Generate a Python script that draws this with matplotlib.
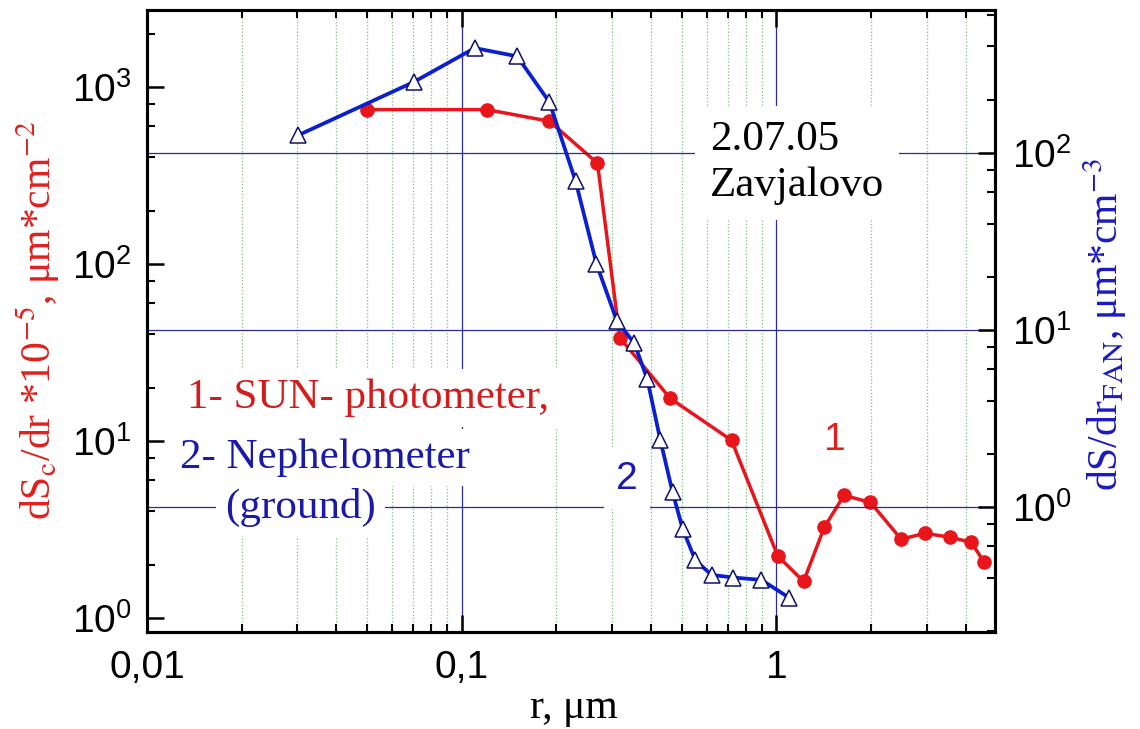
import numpy as np
import matplotlib
matplotlib.use("Agg")
import matplotlib.pyplot as plt
from matplotlib.ticker import (FixedLocator, FixedFormatter, LogLocator,
                               LogFormatterMathtext, NullFormatter)

# curve 1: SUN-photometer, left axis (dSc/dr * 1e-5)
sun_r = [0.05, 0.12, 0.19, 0.27, 0.318, 0.46, 0.72, 1.01, 1.22, 1.42,
         1.64, 1.99, 2.49, 2.97, 3.56, 4.16, 4.57]
sun_ds = [745, 745, 640, 371, 38.3, 17.4, 10.1, 2.24, 1.61, 3.26,
          4.93, 4.5, 2.79, 3.01, 2.86, 2.68, 2.07]

# curve 2: Nephelometer (ground), right axis (dS/dr FAN)
neph_r = [0.0302, 0.0704, 0.11, 0.15, 0.19, 0.23, 0.268, 0.311, 0.354,
          0.389, 0.428, 0.468, 0.504, 0.553, 0.622, 0.73, 0.896, 1.10]
neph_ds = [126, 252, 392, 352, 194, 69.5, 23.7, 11.3, 8.4,
           5.26, 2.38, 1.21, 0.75, 0.50, 0.414, 0.40, 0.388, 0.307]

x_major = [0.01, 0.1, 1]
x_major_labels = ["0,01", "0,1", "1"]

x_lim = (0.01, 4.95)
left_lim = (0.834, 2720)
right_lim = (0.197, 643)

RED = "#e8161b"
BLUE = "#0a1ed2"
NAVY = "#2a2a9a"
GREEN = "#7cc27c"

plt.rcParams["font.family"] = ["Liberation Sans", "DejaVu Sans"]
plt.rcParams["mathtext.fontset"] = "custom"
plt.rcParams["mathtext.rm"] = "Liberation Sans"
plt.rcParams["mathtext.it"] = "Liberation Sans:italic"
plt.rcParams["mathtext.bf"] = "Liberation Sans:bold"

fig = plt.figure(figsize=(11.4, 7.29), dpi=100)
ax = fig.add_axes([147 / 1140, 97 / 729, 848 / 1140, 622 / 729])
ax2 = ax.twinx()

ax.set_xscale("log")
ax.set_yscale("log")
ax2.set_yscale("log")
ax.set_xlim(*x_lim)
ax.set_ylim(*left_lim)
ax2.set_ylim(*right_lim)

# x ticks
ax.xaxis.set_major_locator(FixedLocator(x_major))
ax.xaxis.set_major_formatter(FixedFormatter(x_major_labels))
ax.xaxis.set_minor_locator(LogLocator(base=10, subs=np.arange(2, 10)))
ax.xaxis.set_minor_formatter(NullFormatter())

# y ticks, both sides
for a in (ax, ax2):
    a.yaxis.set_major_locator(LogLocator(base=10, numticks=10))
    a.yaxis.set_major_formatter(LogFormatterMathtext())
    a.yaxis.set_minor_locator(LogLocator(base=10, subs=[2, 4, 6, 8], numticks=10))
    a.yaxis.set_minor_formatter(NullFormatter())
    for s in a.spines.values():
        s.set_linewidth(2.2)

ax.tick_params(axis="x", which="both", direction="in", top=True, bottom=True)
ax.tick_params(axis="x", which="major", length=12, width=1.8, pad=13, labelsize=28)
ax.tick_params(axis="x", which="minor", length=6, width=1.5)
ax.tick_params(axis="y", which="major", direction="in", length=12, width=1.8,
               pad=11, labelsize=28)
ax.tick_params(axis="y", which="minor", direction="in", length=6, width=1.5)
ax2.tick_params(axis="y", which="major", direction="in", length=12, width=1.8,
                pad=12, labelsize=28)
ax2.tick_params(axis="y", which="minor", direction="in", length=6, width=1.5)

# grid
ax.grid(True, which="major", axis="x", color=NAVY, lw=0.9, ls="-")
ax.grid(True, which="minor", axis="x", color=GREEN, lw=0.9, ls=":")
ax2.grid(True, which="major", axis="y", color=NAVY, lw=0.9, ls="-")
ax2.set_axisbelow(True)

# data
ax.plot(sun_r, sun_ds, "-o", color=RED, lw=2.5, ms=9.5, mfc=RED, mec=RED, zorder=3)
ax2.plot(neph_r, neph_ds, "-^", color=BLUE, lw=2.7, ms=12, mfc="white",
         mec="#10106a", mew=1.1, zorder=3)

# annotations
serif = ["Liberation Serif", "DejaVu Serif"]
box = dict(boxstyle="square,pad=0.35", fc="white", ec="none")
legend_box = dict(boxstyle="square,pad=0.22", fc="white", ec="none")
ax2.text(0.664, 0.754, "2.07.05\nZavjalovo", transform=ax2.transAxes,
         fontsize=31, family=serif, color="black", ha="left", va="center",
         linespacing=1.25, bbox=box, zorder=4)
ax2.text(0.092, 0.183, "(ground)", transform=ax2.transAxes,
         fontsize=31, family=serif, color="#1a1aa8", ha="left", va="baseline",
         bbox=legend_box, zorder=4.0)
ax2.text(0.039, 0.264, "2- Nephelometer", transform=ax2.transAxes,
         fontsize=31, family=serif, color="#1a1aa8", ha="left", va="baseline",
         bbox=legend_box, zorder=4.1)
ax2.text(0.047, 0.360, "1- SUN- photometer,", transform=ax2.transAxes,
         fontsize=31, family=serif, color="#d41c1c", ha="left", va="baseline",
         bbox=legend_box, zorder=4.2)
ax2.text(0.811, 0.309, "1", transform=ax2.transAxes, fontsize=28,
         color="#e0201c", ha="center", va="center", zorder=4)
ax2.text(0.566, 0.246, "2", transform=ax2.transAxes, fontsize=28,
         color="#1a1ab0", ha="center", va="center",
         bbox=dict(boxstyle="square,pad=0.3", fc="white", ec="none"), zorder=4)

# axis labels
fig.text(38 / 1140, 1 - 320 / 729, r"dS$_{\mathrm{c}}$/dr *10$^{-5}$, μm*cm$^{-2}$",
         rotation=90, ha="center", va="center", fontsize=30, family=serif,
         math_fontfamily="stix", color="#e0201c")
fig.text(1105 / 1140, 1 - 324 / 729, r"dS/dr$_{\mathrm{FAN}}$, μm*cm$^{-3}$",
         rotation=90, ha="center", va="center", fontsize=30, family=serif,
         math_fontfamily="stix", color="#1a1ac0")
fig.text(574 / 1140, 1 - 708 / 729, "r, μm", ha="center", va="center",
         fontsize=30, family=serif, color="black")

fig.savefig("out.png", dpi=100)
